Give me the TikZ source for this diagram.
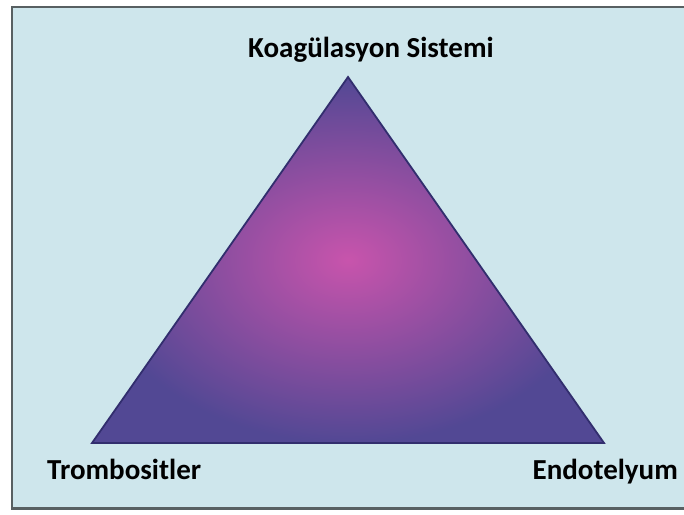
\documentclass[tikz,border=0pt]{standalone}
\usepackage{fontspec}
\setmainfont{Carlito}
\definecolor{panelblue}{RGB}{206,230,236}
\definecolor{framegray}{RGB}{88,96,98}
\definecolor{triedge}{RGB}{50,46,110}
\definecolor{trimid}{RGB}{200,84,172}
\definecolor{triout}{RGB}{82,72,148}
\tikzset{
  cornerlabel/.style={font=\fontsize{29}{34}\selectfont\bfseries, inner sep=0pt}
}
\begin{document}
\begin{tikzpicture}[x=1pt, y=-1pt]

  % -- Page and panel --
  \useasboundingbox (0,0) rectangle (684,514);
  \clip (0,0) rectangle (684,514);
  \fill[white] (0,0) rectangle (684,514);
  \draw[line width=2.4pt, draw=framegray, fill=panelblue] (12,7) rectangle (692,508.5);

  % -- Triangle corners --
  \coordinate (top) at (348,77);
  \coordinate (left) at (92,443);
  \coordinate (right) at (604,443);

  % -- Shaded triangle --
  \draw[line width=1.8pt, draw=triedge, line join=miter, shading=radial,
        inner color=trimid, outer color=triout]
    (top) -- (right) -- (left) -- cycle;

  % -- Labels --
  \node[cornerlabel, anchor=base west] (coag) at (248,57) {Koagülasyon Sistemi};
  \node[cornerlabel, anchor=base west] (tromb) at (47,479) {Trombositler};
  \node[cornerlabel, anchor=base east] (endo) at (678,479) {Endotelyum};

\end{tikzpicture}
\end{document}
